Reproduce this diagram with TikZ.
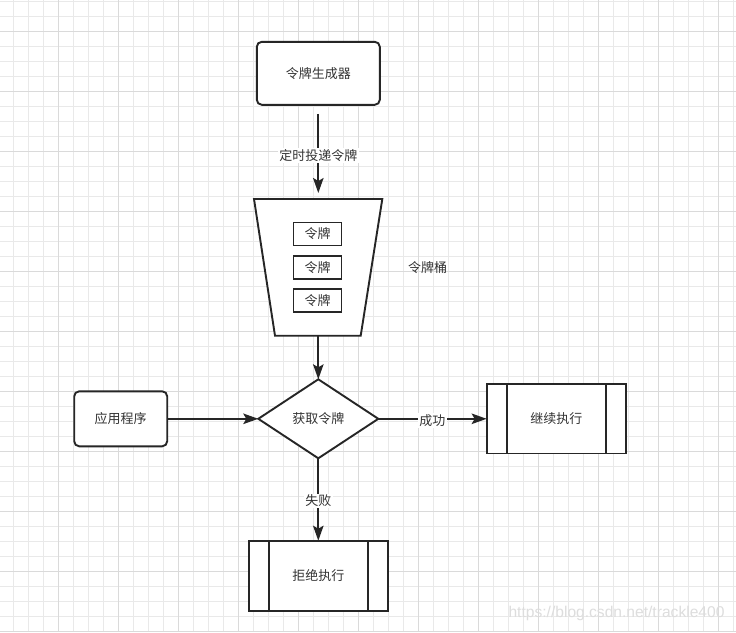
\documentclass[tikz,border=0pt]{standalone}
\usepackage{fontspec}
\setmainfont{Noto Sans CJK SC}
\newfontfamily\wmfont{Liberation Sans}
\usetikzlibrary{arrows.meta,shapes.geometric}
\definecolor{ink}{HTML}{262626}
\definecolor{txt}{HTML}{333333}
\definecolor{gridminor}{HTML}{E9E9E9}
\definecolor{gridmajor}{HTML}{DADADA}
\definecolor{wmcol}{HTML}{DDDDDD}
\begin{document}
\begin{tikzpicture}[x=1pt,y=-1pt,
  every node/.style={font=\fontsize{13}{15}\selectfont, text=txt},
  outlined/.style={draw=ink, line width=1.9pt, fill=white, inner sep=0pt, outer sep=0pt},
  rbox/.style={outlined, rounded corners=5pt},
  procbox/.style={outlined, rectangle},
  tokenbox/.style={outlined, rectangle, line width=1.7pt, minimum width=48pt, minimum height=23pt},
  divider/.style={draw=ink, line width=1.9pt},
  conn/.style={draw=ink, line width=1.8pt, -{Stealth[length=15pt,width=10.5pt,inset=3pt]}},
  lbl/.style={fill=white, inner sep=1.5pt, yshift=-1.5pt}
]
\useasboundingbox (0,0) rectangle (736,632);
\fill[white] (0,0) rectangle (736,632);
% grid
\foreach \i in {0,...,48} \draw[gridminor, line width=0.8pt] ({13.5+15*\i},0) -- ({13.5+15*\i},632);
\foreach \j in {0,...,42} \draw[gridminor, line width=0.8pt] (0,{1.7+15*\j}) -- (736,{1.7+15*\j});
\foreach \i in {0,...,11} \draw[gridmajor, line width=0.9pt] ({58.5+60*\i},0) -- ({58.5+60*\i},632);
\foreach \j in {0,...,10} \draw[gridmajor, line width=0.9pt] (0,{31.7+60*\j}) -- (736,{31.7+60*\j});

% generator
\node[rbox, minimum width=123pt, minimum height=63pt] (gen) at (318.3,73.3) {令牌生成器};

% bucket (trapezoid)
\coordinate (btl) at (254,199);
\coordinate (btr) at (382.3,199);
\coordinate (bbr) at (360.7,335.7);
\coordinate (bbl) at (275,335.7);
\coordinate (btop) at (318.3,199);
\coordinate (bbot) at (318.3,335.7);
\draw[draw=ink, line width=1.9pt, fill=white, line join=miter] (btl) -- (btr) -- (bbr) -- (bbl) -- cycle;
\node[tokenbox] (t1) at (317.5,234) {令牌};
\node[tokenbox] (t2) at (317.5,267.3) {令牌};
\node[tokenbox] (t3) at (317.5,300.3) {令牌};
\node (bucketlbl) at (427.7,267.7) {令牌桶};

% decision
\node[outlined, diamond, minimum width=120pt, minimum height=79pt] (get) at (318.3,418.8) {获取令牌};

% application
\node[rbox, minimum width=93pt, minimum height=55pt] (app) at (120.7,418.8) {应用程序};

% continue
\node[procbox, minimum width=139.3pt, minimum height=69.3pt] (cont) at (556.3,418.8) {继续执行};
\draw[divider] ([xshift=20pt]cont.north west) -- ([xshift=20pt]cont.south west);
\draw[divider] ([xshift=-20pt]cont.north east) -- ([xshift=-20pt]cont.south east);

% reject
\node[procbox, minimum width=138.7pt, minimum height=70pt] (rej) at (318.3,575.7) {拒绝执行};
\draw[divider] ([xshift=20pt]rej.north west) -- ([xshift=20pt]rej.south west);
\draw[divider] ([xshift=-20pt]rej.north east) -- ([xshift=-20pt]rej.south east);

% connectors
\draw[conn, shorten <=9pt, shorten >=6pt] (gen.south) -- node[lbl, pos=0.52] {定时投递令牌} (btop);
\draw[conn] (bbot) -- (get.north);
\draw[conn] (app.east) -- (get.west);
\draw[conn] (get.east) -- node[lbl] {成功} (cont.west);
\draw[conn] (get.south) -- node[lbl] {失败} (rej.north);

% watermark
\node[font=\wmfont\fontsize{15.6}{17}\selectfont, text=wmcol] (wm) at (616.5,613) {https://blog.csdn.net/trackle400};
\end{tikzpicture}
\end{document}
